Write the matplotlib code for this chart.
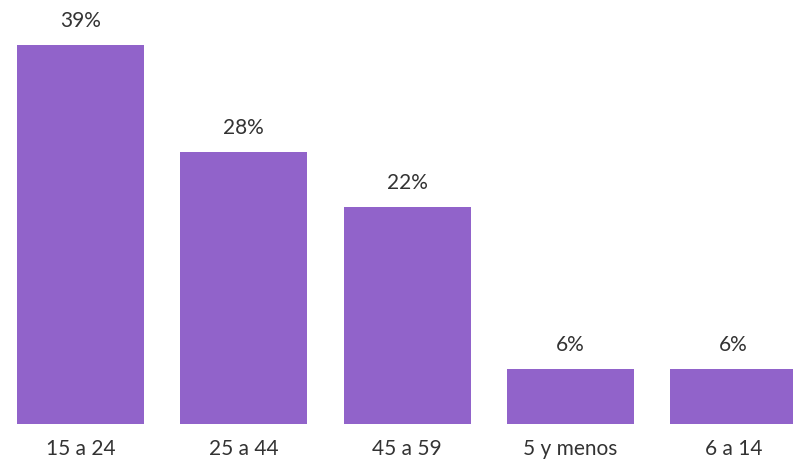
import matplotlib.pyplot as plt

# datos
grupos = ['15 a 24', '25 a 44', '45 a 59', '5 y menos', '6 a 14']
porcentajes = [39.0, 28.0, 22.3, 5.7, 5.7]

plt.rcParams['font.family'] = ['Lato', 'DejaVu Sans']

fig = plt.figure(figsize=(7.93, 4.63), dpi=100)
ax = fig.add_axes([0, 39 / 463, 1, 424 / 463])

x = range(len(grupos))
barras = ax.bar(x, porcentajes, width=0.778, color='#9163CA')

for b, v in zip(barras, porcentajes):
    ax.annotate(f'{v:.0f}%', (b.get_x() + b.get_width() / 2, v),
                xytext=(0, 10), textcoords='offset points',
                ha='center', va='bottom', fontsize=15, color='#333333')

ax.set_xlim(-0.493, 4.363)
ax.set_ylim(0, 424 / 9.72)
ax.set_xticks(list(x))
ax.set_xticklabels(grupos, fontsize=15, color='#333333')
ax.tick_params(axis='x', length=0, pad=11)
ax.set_yticks([])
for s in ax.spines.values():
    s.set_visible(False)

fig.savefig('out.png', dpi=100)
